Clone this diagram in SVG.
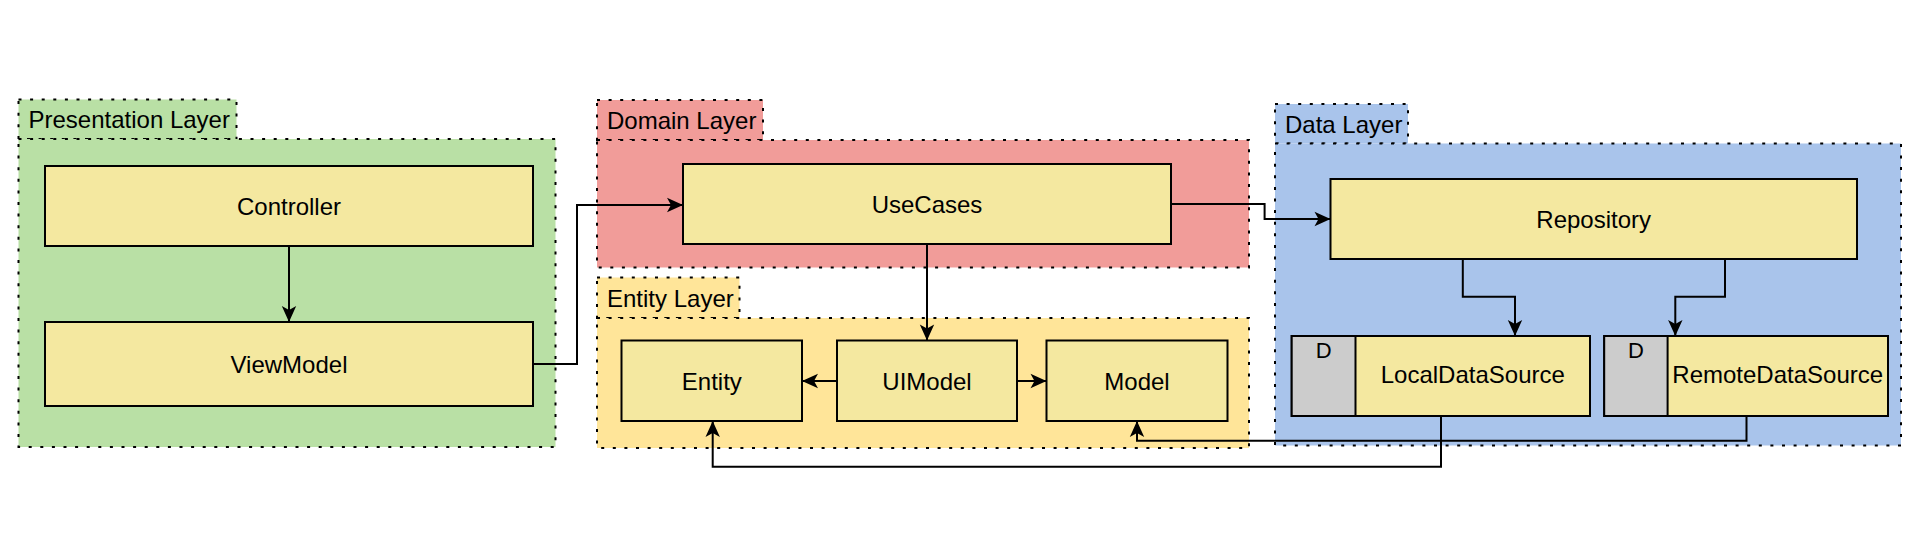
<svg xmlns="http://www.w3.org/2000/svg" width="1916" height="534" viewBox="0 0 1916 534">
<style>
.layer{stroke:#000;stroke-width:2;stroke-dasharray:3 8.6}
.node{fill:#F4E8A0;stroke:#000;stroke-width:2}
.gray{fill:#CCCCCC;stroke:#000;stroke-width:2}
.lbl{font-family:"Liberation Sans",Arial,Helvetica,sans-serif;font-size:24px;fill:#000}
.mid{text-anchor:middle}
.edge{fill:none;stroke:#000;stroke-width:2;marker-end:url(#arr)}
</style>
<defs>
<marker id="arr" viewBox="-17 -9 18 18" refX="0" refY="0" markerWidth="18" markerHeight="18" markerUnits="userSpaceOnUse" orient="auto">
<path d="M0,0 L-16,-7.2 L-12,0 L-16,7.2 Z" fill="#000"/>
</marker>
</defs>
<rect width="1916" height="534" fill="#fff"/>

<g id="presentation-layer">
<rect class="layer" x="18.5" y="99.5" width="218" height="39.5" fill="#B9E0A5"/>
<rect class="layer" x="18.5" y="139" width="537" height="308" fill="#B9E0A5"/>
<text class="lbl" x="28.5" y="128">Presentation Layer</text>
</g>
<g id="domain-layer">
<rect class="layer" x="597" y="100" width="166" height="40" fill="#F19C99"/>
<rect class="layer" x="597" y="140" width="652" height="127.5" fill="#F19C99"/>
<text class="lbl" x="607" y="128.5">Domain Layer</text>
</g>
<g id="entity-layer">
<rect class="layer" x="597" y="277.5" width="142.5" height="40.5" fill="#FFE599"/>
<rect class="layer" x="597" y="318" width="652" height="130" fill="#FFE599"/>
<text class="lbl" x="607" y="306.5">Entity Layer</text>
</g>
<g id="data-layer">
<rect class="layer" x="1275" y="104" width="133" height="39.5" fill="#A9C4EB"/>
<rect class="layer" x="1275" y="143.5" width="626" height="302" fill="#A9C4EB"/>
<text class="lbl" x="1285" y="132.5">Data Layer</text>
</g>

<g id="controller">
<rect class="node" x="45" y="166" width="488" height="80"/>
<text class="lbl mid" x="289" y="214.5">Controller</text>
</g>
<g id="viewmodel">
<rect class="node" x="45" y="322" width="488" height="84"/>
<text class="lbl mid" x="289" y="372.5">ViewModel</text>
</g>
<g id="usecases">
<rect class="node" x="683" y="164" width="488" height="80"/>
<text class="lbl mid" x="927" y="212.5">UseCases</text>
</g>
<g id="entity">
<rect class="node" x="621.5" y="340.5" width="180.5" height="80.5"/>
<text class="lbl mid" x="711.8" y="389.5">Entity</text>
</g>
<g id="uimodel">
<rect class="node" x="837" y="340.5" width="180" height="80.5"/>
<text class="lbl mid" x="927" y="389.5">UIModel</text>
</g>
<g id="model">
<rect class="node" x="1046.5" y="340.5" width="181" height="80.5"/>
<text class="lbl mid" x="1137" y="389.5">Model</text>
</g>
<g id="repository">
<rect class="node" x="1330.5" y="179" width="526.5" height="80"/>
<text class="lbl mid" x="1593.7" y="227.5">Repository</text>
</g>
<g id="localdatasource">
<rect class="node" x="1291.7" y="336" width="298.3" height="80"/>
<rect class="gray" x="1291.7" y="336" width="63.8" height="80"/>
<text class="lbl mid" x="1323.6" y="357.5" style="font-size:22px">D</text>
<text class="lbl mid" x="1472.8" y="383">LocalDataSource</text>
</g>
<g id="remotedatasource">
<rect class="node" x="1604.2" y="336" width="283.8" height="80"/>
<rect class="gray" x="1604.2" y="336" width="63.4" height="80"/>
<text class="lbl mid" x="1636" y="357.5" style="font-size:22px">D</text>
<text class="lbl mid" x="1777.7" y="383">RemoteDataSource</text>
</g>

<g id="connectors">
<path class="edge" d="M289,246 L289,322"/>
<path class="edge" d="M533,364 L577,364 L577,205 L683,205"/>
<path class="edge" d="M927,244 L927,340.5"/>
<path class="edge" d="M837,381 L802,381"/>
<path class="edge" d="M1017,381 L1046.5,381"/>
<path class="edge" d="M1171,204 L1264.6,204 L1264.6,219 L1330.5,219"/>
<path class="edge" d="M1462.8,259 L1462.8,296.7 L1515,296.7 L1515,336"/>
<path class="edge" d="M1725,259 L1725,296.7 L1675.3,296.7 L1675.3,336"/>
<path class="edge" d="M1441,416 L1441,466.7 L712.7,466.7 L712.7,421"/>
<path class="edge" d="M1746.5,416 L1746.5,440.7 L1137,440.7 L1137,421"/>
</g>
</svg>
